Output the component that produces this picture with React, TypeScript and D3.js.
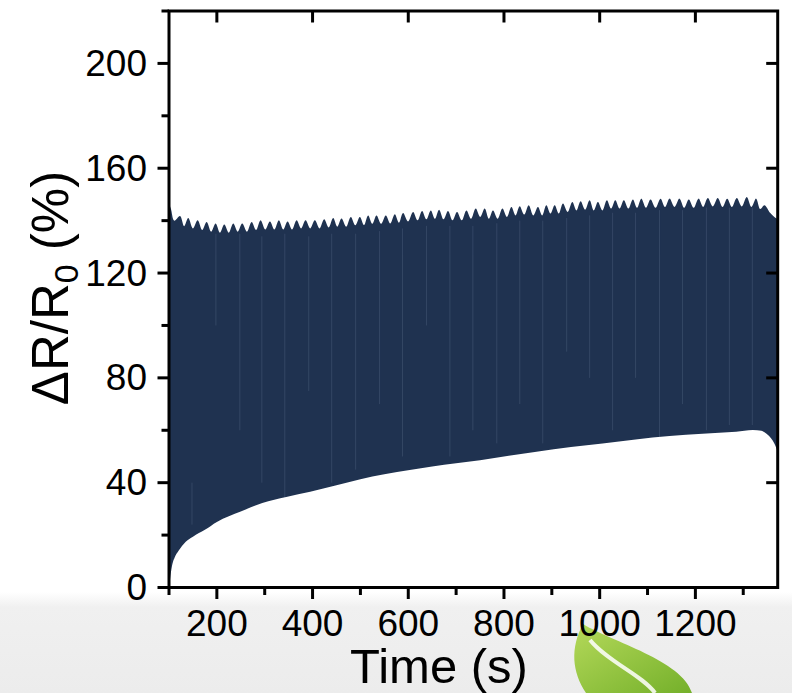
import React from 'react';
import * as d3 from 'd3';

// ---- data ----
const peakTimes = [
  123.0, 140.3, 159.9, 178.7, 197.5, 215.5, 234.2, 253.0, 272.7, 291.4, 310.9, 329.6, 347.8, 366.6, 385.4,
  404.8, 424.2, 443.0, 460.5, 479.9, 498.8, 516.1, 533.6, 553.0, 571.8, 589.1, 610.0, 628.8, 647.0, 664.3,
  683.1, 701.9, 721.5, 740.9, 759.7, 777.0, 796.7, 815.5, 832.8, 851.6, 871.0, 888.5, 905.9, 923.2, 942.8,
  960.1, 978.9, 996.3, 1015.0, 1032.6, 1050.5, 1069.3, 1086.9, 1106.3, 1127.1, 1145.9, 1166.8, 1186.2,
  1206.5, 1225.9, 1246.8, 1266.4, 1286.4, 1307.3, 1326.9, 1344.3,
];
const peakValues = [
  141.8, 141.0, 140.1, 139.5, 138.9, 138.5, 138.9, 138.9, 139.5, 140.1, 139.7, 140.1, 139.7, 140.1, 140.1,
  140.1, 140.5, 141.0, 140.8, 141.4, 141.4, 142.0, 142.0, 142.0, 142.4, 142.9, 143.3, 143.7, 143.9, 144.2,
  143.7, 143.3, 143.9, 144.6, 144.6, 143.9, 144.6, 145.2, 145.5, 145.9, 145.2, 145.9, 145.9, 146.5, 147.1,
  147.4, 147.8, 147.1, 147.8, 147.8, 147.8, 148.1, 148.4, 148.1, 148.4, 148.4, 148.4, 148.1,
  148.4, 148.6, 148.6, 148.4, 148.6, 149.0, 148.4, 145.9,
];
const troughValues = [
  137.9, 137.0, 136.4, 135.8, 135.4, 135.4, 135.8, 135.8, 136.4, 136.6, 136.6, 136.6, 136.6, 137.0, 137.0,
  137.0, 137.4, 137.7, 137.7, 138.2, 138.3, 138.8, 138.8, 138.9, 139.2, 139.7, 140.1, 140.5, 140.7, 140.5,
  140.1, 140.1, 140.7, 141.4, 140.7, 140.7, 141.4, 142.0, 142.3, 142.0, 142.0, 142.7, 142.7, 143.3, 143.9,
  144.2, 143.9, 143.9, 144.6, 144.6, 144.6, 144.9, 144.9, 144.9, 145.2, 145.2, 144.9, 144.9,
  145.2, 145.4, 145.2, 145.2, 145.4, 145.2, 144.4,
];
const upperStart: [number, number][] = [[100, 146.5], [104, 144.5], [111, 140.0]];
const upperEnd: [number, number][] = [[1356, 143.0], [1365, 141.4], [1372, 140.5]];

const lowerTimes = [100, 102, 106, 112, 120, 135, 150, 175, 200, 250, 295, 345, 395, 450, 500, 550, 603, 650,
  700, 750, 810, 868, 940, 1006, 1075, 1146, 1215, 1285, 1320, 1338, 1348, 1358, 1365, 1372];
const lowerValues = [0, 3, 8, 11.5, 14, 17.5, 19.4, 22, 25, 29, 32.2, 34.5, 36.5, 39, 41.3, 43.2, 44.8, 46.2,
  47.4, 48.6, 50.3, 51.8, 53.6, 55, 56.5, 57.8, 58.7, 59.4, 60.1, 59.8, 58.8, 57, 55, 52];

// faint lighter streaks inside the band: [time, top value, bottom value]
const streaks: [number, number, number][] = [
  [148, 40, 24], [198, 135, 100], [248, 135, 60], [294, 134, 40], [342, 135, 30], [392, 134, 75],
  [440, 135, 40], [490, 135, 45], [540, 136, 70], [588, 137, 50], [638, 138, 100], [687, 138, 50],
  [735, 138, 60], [785, 139, 55], [833, 140, 70], [881, 140, 55], [931, 141, 90], [979, 142, 80],
  [1027, 143, 60], [1075, 143, 80], [1125, 144, 56], [1173, 144, 70], [1223, 145, 60], [1271, 145, 62],
  [1319, 145, 62],
];

const xMajor = [200, 400, 600, 800, 1000, 1200];
const xMinor = [100, 300, 500, 700, 900, 1100, 1300];
const yMajor = [0, 40, 80, 120, 160, 200];
const yMinor = [20, 60, 100, 140, 180, 220];

const xTitle = 'Time (s)';

// ---- layout ----
const W = 792, H = 693;
const L = 169, R = 777.7, T = 11, B = 587.5;
const FILL = '#1f3250';
const FONT = '"Liberation Sans", Arial, Helvetica, sans-serif';

export default function App() {
  const x = d3.scaleLinear().domain([100, 1372]).range([L, R]);
  const y = d3.scaleLinear().domain([0, 220]).range([B, T]);

  const upperPts: [number, number][] = [...upperStart];
  peakTimes.forEach((t, i) => {
    upperPts.push([t, peakValues[i]]);
    if (i < troughValues.length) upperPts.push([(t + peakTimes[i + 1]) / 2, troughValues[i]]);
  });
  upperPts.push(...upperEnd);

  const lowerPts: [number, number][] = lowerTimes.map((t, i) => [t, lowerValues[i]]);

  const upperArea = d3.area<[number, number]>()
    .x(d => x(d[0]))
    .y0(B)
    .y1(d => y(d[1]))
    .curve(d3.curveCatmullRom.alpha(0.5));
  const lowerArea = d3.area<[number, number]>()
    .x(d => x(d[0]))
    .y0(B)
    .y1(d => y(d[1]))
    .curve(d3.curveMonotoneX);

  const major = 10, minor = 6, sw = 3;

  return (
    <svg width={W} height={H} style={{ position: 'absolute', left: 0, top: 0, display: 'block', background: '#fff' }}
      fontFamily={FONT}>
      <defs>
        <linearGradient id="band" x1="0" y1="0" x2="0" y2="1">
          <stop offset="0" stopColor="#ffffff" />
          <stop offset="0.15" stopColor="#f0f0f0" />
          <stop offset="1" stopColor="#ececec" />
        </linearGradient>
        <linearGradient id="leaf" x1="0" y1="0" x2="1" y2="1">
          <stop offset="0" stopColor="#b5d95a" />
          <stop offset="1" stopColor="#74b02a" />
        </linearGradient>
        <clipPath id="plot"><rect x={L} y={T} width={R - L} height={B - T} /></clipPath>
      </defs>
      <rect x={0} y={592} width={W} height={H - 592} fill="url(#band)" />
      <path d="M583,624 C612,642 682,660 692,693 L586,693 C572,672 570,648 583,624 Z" fill="url(#leaf)" />
      <path d="M590,640 C608,662 642,675 655,693" fill="none" stroke="#ffffff" strokeWidth={4} opacity={0.85} />

      <g clipPath="url(#plot)">
        <path d={upperArea(upperPts) || ''} fill={FILL} />
        {streaks.map(([t, v1, v0], i) => (
          <line key={i} x1={x(t)} x2={x(t)} y1={y(v1)} y2={y(v0)} stroke="#5a6d8a" strokeWidth={1} opacity={0.35} />
        ))}
        <path d={lowerArea(lowerPts) || ''} fill="#ffffff" />
      </g>

      {/* frame */}
      <rect x={L} y={T} width={R - L} height={B - T} fill="none" stroke="#000" strokeWidth={sw} />

      {/* bottom and top axes */}
      {xMajor.map(v => (
        <g key={'xM' + v}>
          <line x1={x(v)} x2={x(v)} y1={B} y2={B + major + 1.5} stroke="#000" strokeWidth={sw} />
          <line x1={x(v)} x2={x(v)} y1={T} y2={T + major + 1.5} stroke="#000" strokeWidth={sw} />
          <text x={x(v)} y={B + 36} textAnchor="middle" dominantBaseline="central" fontSize={37}>{v}</text>
        </g>
      ))}
      {xMinor.map(v => (
        <line key={'xm' + v} x1={x(v)} x2={x(v)} y1={B} y2={B + minor + 1.5} stroke="#000" strokeWidth={sw} />
      ))}

      {/* left and right axes */}
      {yMajor.map(v => (
        <g key={'yM' + v}>
          <line x1={L - major - 1.5} x2={L} y1={y(v)} y2={y(v)} stroke="#000" strokeWidth={sw} />
          <line x1={R - major - 1.5} x2={R} y1={y(v)} y2={y(v)} stroke="#000" strokeWidth={sw} />
          <text x={L - 22} y={y(v)} textAnchor="end" dominantBaseline="central" fontSize={37}>{v}</text>
        </g>
      ))}
      {yMinor.map(v => (
        <line key={'ym' + v} x1={L - minor - 1.5} x2={L} y1={y(v)} y2={y(v)} stroke="#000" strokeWidth={sw} />
      ))}

      {/* titles */}
      <text x={439} y={683} textAnchor="middle" fontSize={49}>{xTitle}</text>
      <text transform="translate(68,288) rotate(-90)" textAnchor="middle" fontSize={51}>
        ΔR/R<tspan fontSize={34} dy={10}>0</tspan><tspan dy={-10}> (%)</tspan>
      </text>
    </svg>
  );
}
